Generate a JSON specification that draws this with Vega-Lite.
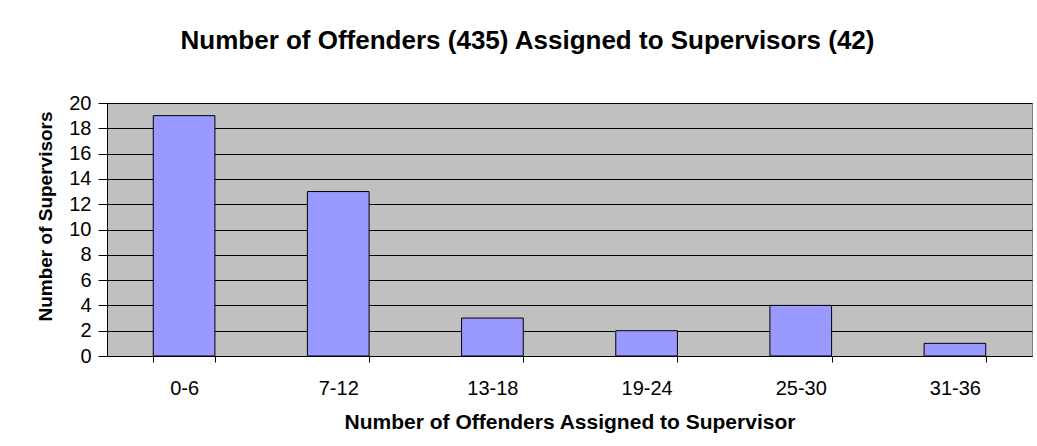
{
  "$schema": "https://vega.github.io/schema/vega-lite/v6.json",
  "autosize": "none",
  "width": 925,
  "height": 253,
  "padding": {"left": 107, "top": 103, "right": 5, "bottom": 90},
  "background": "white",
  "title": {
    "text": "Number of Offenders (435) Assigned to Supervisors (42)",
    "font": "Liberation Sans",
    "fontSize": 26,
    "fontWeight": "bold",
    "color": "black",
    "anchor": "middle",
    "frame": "group",
    "baseline": "alphabetic",
    "offset": 18,
    "dx": -42
  },
  "data": {
    "values": [
      {"range": "0-6", "supervisors": 19},
      {"range": "7-12", "supervisors": 13},
      {"range": "13-18", "supervisors": 3},
      {"range": "19-24", "supervisors": 2},
      {"range": "25-30", "supervisors": 4},
      {"range": "31-36", "supervisors": 1}
    ]
  },
  "mark": {"type": "bar", "fill": "#9999FF", "stroke": "black", "strokeWidth": 1},
  "encoding": {
    "x": {
      "field": "range",
      "type": "nominal",
      "sort": null,
      "scale": {"paddingInner": 0.6, "paddingOuter": 0.3},
      "axis": {
        "title": "Number of Offenders Assigned to Supervisor",
        "titleFont": "Liberation Sans",
        "titleFontSize": 21,
        "titleFontWeight": "bold",
        "titleColor": "black",
        "titleBaseline": "alphabetic",
        "titleY": 72,
        "labelAngle": 0,
        "labelFont": "Liberation Sans",
        "labelFontSize": 20,
        "labelColor": "black",
        "labelPadding": 16,
        "tickBand": "extent",
        "tickSize": 6,
        "tickColor": "black",
        "domainColor": "black",
        "grid": false
      }
    },
    "y": {
      "field": "supervisors",
      "type": "quantitative",
      "scale": {"domain": [0, 20], "nice": false},
      "axis": {
        "title": "Number of Supervisors",
        "titleFont": "Liberation Sans",
        "titleFontSize": 19,
        "titleFontWeight": "bold",
        "titleColor": "black",
        "titleBaseline": "alphabetic",
        "titleX": -56,
        "titleY": 113,
        "titleAngle": -90,
        "values": [0, 2, 4, 6, 8, 10, 12, 14, 16, 18, 20],
        "labelFont": "Liberation Sans",
        "labelFontSize": 20,
        "labelColor": "black",
        "labelPadding": 7,
        "tickSize": 9,
        "tickColor": "black",
        "domainColor": "black",
        "grid": true,
        "gridColor": "black",
        "gridOpacity": 1,
        "gridWidth": 1
      }
    }
  },
  "config": {
    "view": {"fill": "#C0C0C0", "stroke": "#808080", "strokeWidth": 1}
  }
}
